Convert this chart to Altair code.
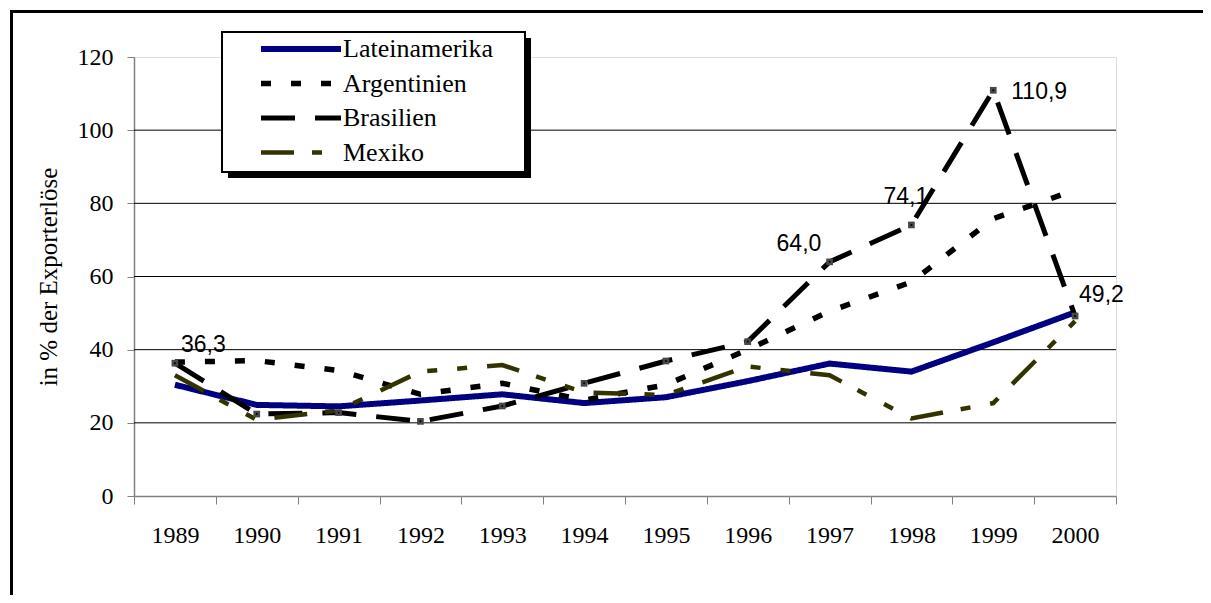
import altair as alt
import pandas as pd

years = ["1989", "1990", "1991", "1992", "1993", "1994", "1995", "1996", "1997", "1998", "1999", "2000"]
series_names = ["Lateinamerika", "Argentinien", "Brasilien", "Mexiko"]
lateinamerika = [30.4, 24.9, 24.5, 26.1, 27.8, 25.4, 27.0, 31.4, 36.2, 34.0, 42.0, 50.2]
argentinien = [36.6, 37.0, 34.3, 27.8, 30.8, 26.2, 30.4, 40.0, 50.5, 58.5, 75.8, 83.6]
brasilien = [36.3, 22.4, 22.8, 20.4, 24.6, 30.8, 36.9, 42.2, 64.0, 74.1, 110.9, 49.2]
mexiko = [33.0, 20.8, 23.4, 34.0, 35.8, 28.3, 27.6, 35.4, 33.0, 21.2, 25.4, 47.8]
label_years = ["1989", "1997", "1998", "1999", "2000"]
label_values = [36.3, 64.0, 74.1, 110.9, 49.2]
label_texts = ["36,3", "64,0", "74,1", "110,9", "49,2"]
grid_values = [20, 40, 60, 80, 100]

colors = ["#000080", "#000000", "#000000", "#333300"]
dashes = [[1, 0], [10, 20], [34, 20], [33, 18, 10, 20, 10, 20]]
widths = [6, 4.5, 4, 4]

rows = []
for name, vals in zip(series_names, [lateinamerika, argentinien, brasilien, mexiko]):
    for y, v in zip(years, vals):
        rows.append({"Jahr": y, "Wert": v, "Serie": name})
df = pd.DataFrame(rows)
bra_df = pd.DataFrame({"Jahr": years, "Wert": brasilien})
lab_df = pd.DataFrame({"Jahr": label_years, "Wert": label_values, "Text": label_texts})
grid_df = pd.DataFrame({"g": grid_values})
one = pd.DataFrame({"a": [0]})

W, H = 982, 439
serif = "Liberation Serif, Times New Roman, serif"

x_scale = alt.Scale(type="band", paddingInner=0, paddingOuter=0)
x_axis = alt.Axis(tickBand="extent", labelAngle=0, labelPadding=19, tickSize=8, grid=False)
y_scale = alt.Scale(domain=[0, 120], nice=False, zero=True)
y_axis = alt.Axis(values=[0, 20, 40, 60, 80, 100, 120], grid=False, labelPadding=14, tickSize=7,
                  titlePadding=16)
Y_TITLE = "in % der Exporterlöse"


def xe():
    return alt.X("Jahr:N", sort=years, title=None, scale=x_scale, axis=x_axis)


def ye(field="Wert:Q"):
    return alt.Y(field, scale=y_scale, title=Y_TITLE, axis=y_axis)


leg = alt.Legend(title=None, orient="none", legendX=154, legendY=-21, symbolType="M-4,0H4",
                 symbolSize=400, labelFont=serif, labelFontSize=26, labelColor="black",
                 padding=0, rowPadding=8.5, labelOffset=29, symbolStrokeWidth=4)

frame_top = alt.Chart(one).mark_rule(color="black", strokeWidth=3).encode(
    x=alt.value(-124), x2=alt.value(1100), y=alt.value(-45.5))
frame_left = alt.Chart(one).mark_rule(color="black", strokeWidth=3).encode(
    x=alt.value(-122.5), y=alt.value(-47), y2=alt.value(560))

grid = alt.Chart(grid_df).mark_rule(color="black", strokeWidth=1).encode(y=ye("g:Q"))

shadow = alt.Chart(one).mark_rect(color="black").encode(
    x=alt.value(94), x2=alt.value(397), y=alt.value(-19), y2=alt.value(121))
box = alt.Chart(one).mark_rect(fill="white", stroke="black", strokeWidth=2).encode(
    x=alt.value(88), x2=alt.value(391), y=alt.value(-25), y2=alt.value(115))

lines = alt.Chart(df).mark_line(strokeCap="butt", strokeJoin="miter").encode(
    x=xe(), y=ye(),
    color=alt.Color("Serie:N", sort=series_names,
                    scale=alt.Scale(domain=series_names, range=colors), legend=leg),
    strokeDash=alt.StrokeDash("Serie:N", sort=series_names,
                              scale=alt.Scale(domain=series_names, range=dashes), legend=leg),
    strokeWidth=alt.StrokeWidth("Serie:N", sort=series_names,
                                scale=alt.Scale(domain=series_names, range=widths), legend=leg),
    order=alt.Order("Jahr:N"))

markers = alt.Chart(bra_df).mark_square(size=45, color="#484848", opacity=1).encode(x=xe(), y=ye())
dots = alt.Chart(bra_df).mark_circle(size=4, color="black", opacity=1).encode(x=xe(), y=ye())

offsets = {"1989": (6, -11), "1997": (-53, -11), "1998": (-28, -21),
           "1999": (18, 9), "2000": (4, -14)}
texts = []
for yr in label_years:
    dx, dy = offsets[yr]
    texts.append(
        alt.Chart(lab_df).transform_filter(alt.datum.Jahr == yr).mark_text(
            font="Liberation Sans", fontSize=23, color="black", align="left",
            baseline="alphabetic", dx=dx, dy=dy).encode(x=xe(), y=ye(), text="Text:N"))

chart = alt.layer(frame_top, frame_left, grid, shadow, box, lines, markers, dots, *texts).properties(
    width=W, height=H,
    autosize=alt.AutoSizeParams(type="none"),
    padding={"left": 126, "top": 49, "right": 87, "bottom": 99},
).configure_view(stroke=None).configure(background="white").configure_axis(
    labelFont=serif, labelFontSize=24, labelColor="black", tickColor="#808080",
    domainColor="#808080", domainWidth=1.5, titleFont=serif, titleFontSize=25,
    titleFontWeight="normal", titleColor="black")

chart.save("out.html", embed_options={"renderer": "svg", "actions": False})
